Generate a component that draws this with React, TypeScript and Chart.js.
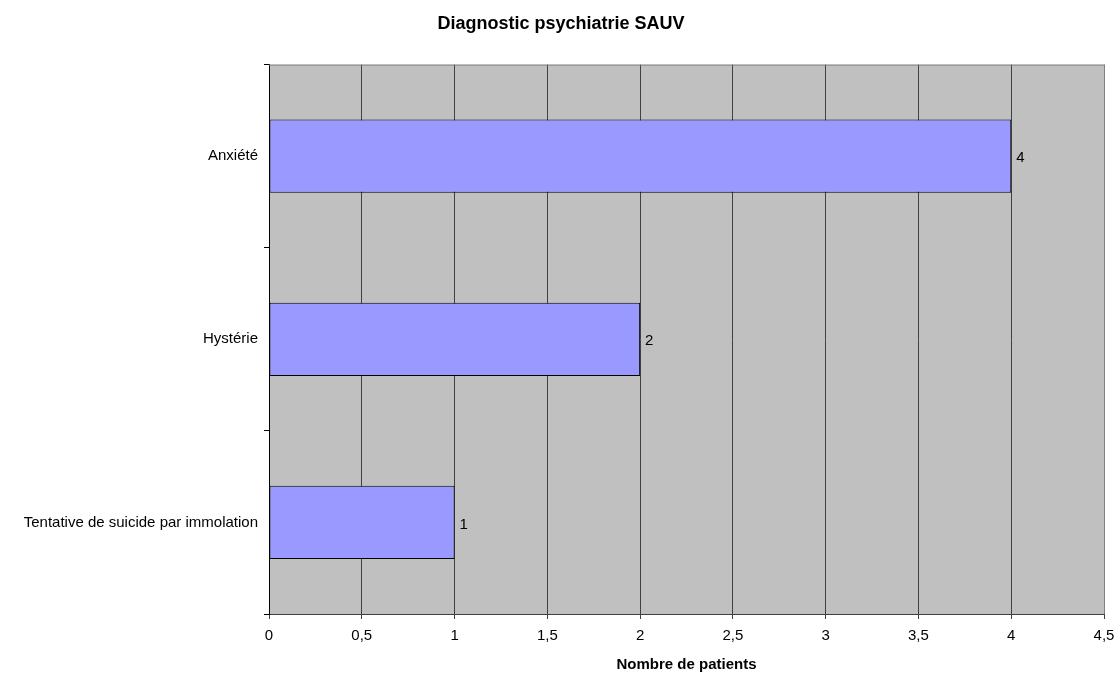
import React, { useEffect, useRef } from "react";
import { Chart, registerables } from "chart.js";

Chart.register(...registerables);

const categories = ["Anxiété", "Hystérie", "Tentative de suicide par immolation"];
const values = [4, 2, 1];
const chartTitle = "Diagnostic psychiatrie SAUV";
const xAxisTitle = "Nombre de patients";
const xMin = 0;
const xMax = 4.5;
const xStep = 0.5;

const FONT = "Arial, 'Liberation Sans', sans-serif";

const plotDecor = {
  id: "plotDecor",
  beforeDraw(chart: any) {
    const { ctx, chartArea } = chart;
    ctx.save();
    ctx.fillStyle = "#C0C0C0";
    ctx.fillRect(chartArea.left, chartArea.top, chartArea.right - chartArea.left, chartArea.bottom - chartArea.top);
    ctx.restore();
  },
  afterDraw(chart: any) {
    const { ctx, chartArea } = chart;
    ctx.save();
    ctx.strokeStyle = "#808080";
    ctx.lineWidth = 1;
    ctx.beginPath();
    ctx.moveTo(chartArea.left, chartArea.top + 0.5);
    ctx.lineTo(chartArea.right + 0.5, chartArea.top + 0.5);
    ctx.lineTo(chartArea.right + 0.5, chartArea.bottom);
    ctx.stroke();
    const meta = chart.getDatasetMeta(0);
    ctx.fillStyle = "#000";
    ctx.font = "15px " + FONT;
    ctx.textAlign = "left";
    ctx.textBaseline = "middle";
    meta.data.forEach((el: any, i: number) => {
      const v = chart.data.datasets[0].data[i];
      ctx.fillText(String(v), el.x + 5, el.y + 2);
    });
    ctx.restore();
  },
};

export default function App() {
  const ref = useRef<HTMLCanvasElement | null>(null);
  useEffect(() => {
    if (!ref.current) return;
    const chart = new Chart(ref.current, {
      type: "bar",
      data: {
        labels: categories,
        datasets: [
          {
            data: values,
            backgroundColor: "#9999FF",
            borderColor: "#000000",
            borderWidth: 1,
            borderSkipped: false,
            categoryPercentage: 1,
            barPercentage: 0.4,
          },
        ],
      },
      options: {
        indexAxis: "y",
        animation: false,
        responsive: false,
        maintainAspectRatio: false,
        layout: { padding: { left: 18, right: 13, top: 0, bottom: 0 } },
        plugins: {
          legend: { display: false },
          tooltip: { enabled: false },
          title: {
            display: true,
            text: chartTitle,
            color: "#000",
            font: { family: FONT, size: 18, weight: "bold" },
            padding: { top: 13, bottom: 30 },
          },
        },
        scales: {
          x: {
            type: "linear",
            min: xMin,
            max: xMax,
            ticks: {
              stepSize: xStep,
              color: "#000",
              font: { family: FONT, size: 15 },
              padding: 8,
              maxRotation: 0,
              callback: (v: any) => String(Number(v)).replace(".", ","),
            },
            grid: { color: "#404040", lineWidth: 1, tickLength: 5, drawTicks: true },
            border: { color: "#404040", width: 1 },
            title: {
              display: true,
              text: xAxisTitle,
              color: "#000",
              font: { family: FONT, size: 15, weight: "bold" },
              padding: { top: 0, bottom: 1 },
            },
            afterFit: (s: any) => {
              s.height = 61;
              s.paddingLeft = 0;
              s.paddingRight = 0;
            },
          },
          y: {
            type: "category",
            ticks: {
              color: "#000",
              font: { family: FONT, size: 15 },
              padding: 6,
            },
            grid: { drawOnChartArea: false, drawTicks: true, tickLength: 5, color: "#000", offset: true },
            border: { color: "#000", width: 1 },
            afterFit: (s: any) => {
              s.width = 251;
            },
          },
        },
      },
      plugins: [plotDecor],
    });
    return () => chart.destroy();
  }, []);
  return (
    <div style={{ position: "absolute", left: 0, top: 0, width: 1117, height: 675, background: "#fff" }}>
      <canvas ref={ref} width={1117} height={675} style={{ width: 1117, height: 675 }} />
    </div>
  );
}
